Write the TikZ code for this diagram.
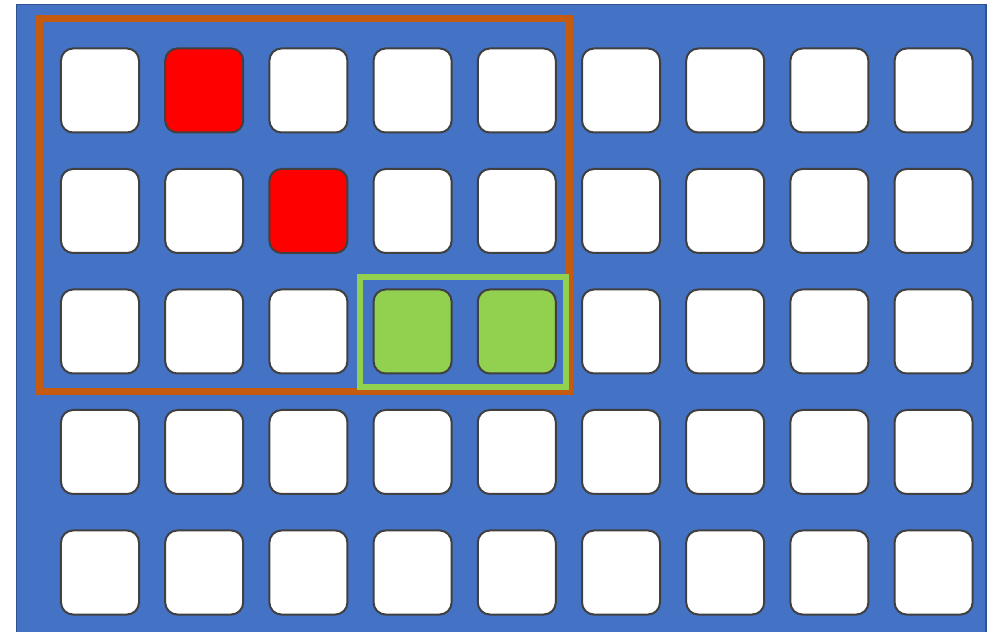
\documentclass[tikz,border=0pt]{standalone}
\usepackage{xcolor}
\usepackage{tikz}
\usetikzlibrary{positioning}

\definecolor{bgblue}{HTML}{4472C4}
\definecolor{bgedge}{HTML}{2F528F}
\definecolor{cellgray}{HTML}{404040}
\definecolor{selorange}{HTML}{C55A11}
\definecolor{okgreen}{HTML}{92D050}

\begin{document}
\begin{tikzpicture}[
  x=0.25mm, y=-0.25mm,
  cell/.style={draw=cellgray, line width=0.5mm, fill=white, rounded corners=3mm,
    minimum width=19.5mm, minimum height=21mm, inner sep=0pt},
  cell 1-2/.style={fill=red},
  cell 2-3/.style={fill=red},
  cell 3-4/.style={fill=okgreen},
  cell 3-5/.style={fill=okgreen},
  frame/.style={draw=selorange, line width=1.75mm},
  subframe/.style={draw=okgreen, line width=1.5mm}
]
\useasboundingbox (0,0) rectangle (992,632);
\fill[bgblue, draw=bgedge, line width=0.4mm] (16.5,4.5) rectangle (986,640);
% grid of seats
\foreach \r in {1,...,5}
  \foreach \c in {1,...,9}
    \node[cell, cell \r-\c/.try] (c\r\c) at ({100+(\c-1)*104.2}, {90.5+(\r-1)*120.5}) {};
% selections
\draw[frame] (39.5,19) rectangle (569,392);
\draw[subframe] (360.3,277) rectangle (565.5,386.7);
\end{tikzpicture}
\end{document}
